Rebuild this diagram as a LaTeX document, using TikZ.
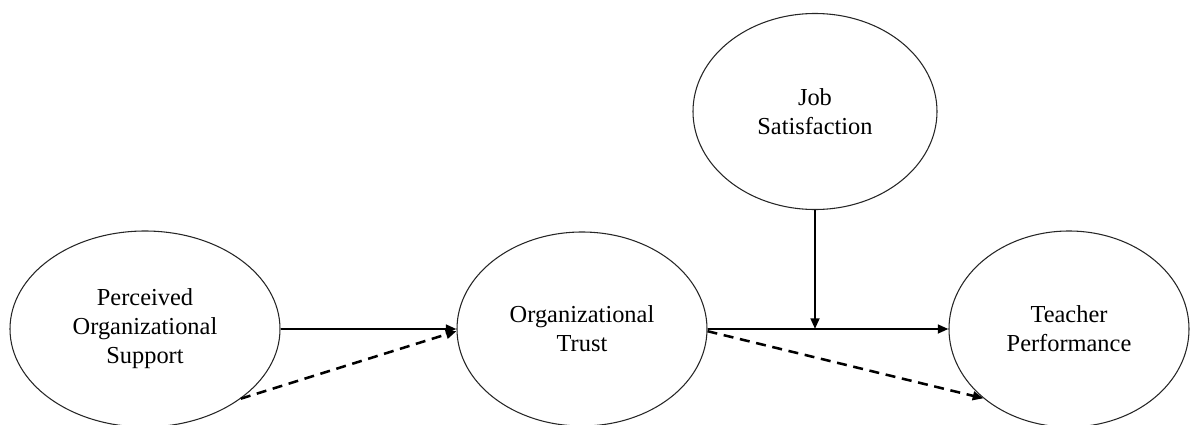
\documentclass[tikz,border=0pt]{standalone}
\usepackage{fontspec}
\setmainfont{Liberation Serif}
\usetikzlibrary{shapes.geometric,arrows.meta}
\begin{document}
\begin{tikzpicture}[x=0.75pt,y=-0.75pt,
  construct/.style={ellipse,draw=black!85,line width=0.8pt,inner sep=0pt,align=center,
    font=\fontsize{18.3pt}{21.75pt}\selectfont,text=black},
  path/.style={line width=1.9pt,-{Triangle[length=8pt,width=6.5pt]}},
  indirect/.style={path,dash pattern=on 7.5pt off 5pt}]
\useasboundingbox (0,0) rectangle (1190,425);
\node[construct,minimum width=202.5pt,minimum height=147pt] (POS) at (145,329) {Perceived\\Organizational\\Support};
\node[construct,minimum width=187.5pt,minimum height=145.5pt] (OT) at (582,329) {Organizational\\Trust};
\node[construct,minimum width=180pt,minimum height=147pt] (TP) at (1069,329) {Teacher\\Performance};
\node[construct,minimum width=183pt,minimum height=147pt] (JS) at (815,111.5) {Job\\Satisfaction};
\coordinate (M) at (JS.south |- OT.east);
\draw[path] (POS.east) -- (OT.west);
\draw[path] (OT.east) -- (TP.west);
\draw[path] (JS.south) -- (M);
\draw[indirect] (POS.-36) -- (OT.181);
\draw[indirect] (OT.-1) -- (TP.219);
\end{tikzpicture}
\end{document}
